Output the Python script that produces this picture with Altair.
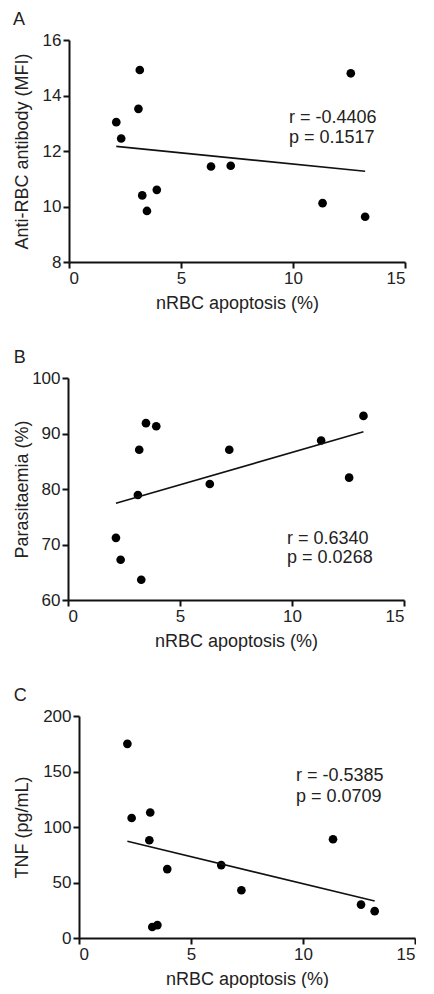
import altair as alt
import pandas as pd

# Panel A
apoptosis_a = [2.11, 2.33, 3.16, 3.10, 3.27, 3.48, 3.92, 6.34, 7.22, 11.32, 12.58, 13.22]
antibody = [13.04, 12.45, 14.92, 13.52, 10.40, 9.84, 10.60, 11.44, 11.47, 10.12, 14.80, 9.63]
stats_a = ["r = -0.4406", "p = 0.1517"]

# Panel B
apoptosis_b = [2.14, 2.35, 3.18, 3.12, 3.27, 3.48, 3.94, 6.33, 7.20, 11.30, 12.55, 13.19]
parasitaemia = [71.2, 67.25, 87.07, 78.92, 63.65, 91.86, 91.3, 80.9, 87.07, 88.74, 82.04, 93.17]
stats_b = ["r = 0.6340", "p = 0.0268"]

# Panel C
apoptosis_c = [2.16, 2.35, 3.18, 3.14, 3.27, 3.50, 3.94, 6.35, 7.25, 11.34, 12.59, 13.20]
tnf = [174.9, 108.1, 113.1, 88.1, 9.9, 11.6, 62.1, 65.7, 43.0, 89.0, 30.1, 24.2]
stats_c = ["r = -0.5385", "p = 0.0709"]

x_ticks = [0, 5, 10, 15]
FONT = "Liberation Sans"
INK = "#222222"


def panel(letter, xs, ys, ytitle, ydomain, yticks, stats, ann_x, ann_y, ytitle_pad):
    df = pd.DataFrame({"x": xs, "y": ys})
    xenc = alt.X("x:Q", scale=alt.Scale(domain=[0, 15], nice=False, zero=False),
                 axis=alt.Axis(values=x_ticks, title="nRBC apoptosis (%)", titlePadding=8))
    yenc = alt.Y("y:Q", scale=alt.Scale(domain=ydomain, nice=False, zero=False),
                 axis=alt.Axis(values=yticks, title=ytitle, titlePadding=ytitle_pad))
    base = alt.Chart(df)
    pts = base.mark_circle(size=75, color="#000000", opacity=1).encode(x=xenc, y=yenc)
    line = base.transform_regression("x", "y").mark_line(
        color="#111111", strokeWidth=1.6).encode(x="x:Q", y="y:Q")
    ann_df = pd.DataFrame({"x": [ann_x, ann_x], "y": ann_y, "t": stats})
    ann = alt.Chart(ann_df).mark_text(
        align="left", baseline="alphabetic", fontSize=18, font=FONT, color=INK
    ).encode(x="x:Q", y="y:Q", text="t:N")
    return alt.layer(pts, line, ann).properties(
        width=336, height=222,
        title=alt.TitleParams(letter, anchor="start", frame="bounds", fontSize=18,
                              fontWeight="normal", font=FONT, color=INK, offset=2),
    )


def spacer():
    return alt.Chart(pd.DataFrame({"s": [0]})).mark_point(opacity=0).encode(
        x=alt.X("s:Q", axis=None), y=alt.Y("s:Q", axis=None)
    ).properties(width=1, height=222)


pa = panel("A", apoptosis_a, antibody, "Anti-RBC antibody (MFI)", [8, 16], [8, 10, 12, 14, 16],
           stats_a, 9.82, [13.0, 12.29], 11)
pb = panel("B", apoptosis_b, parasitaemia, "Parasitaemia (%)", [60, 100], [60, 70, 80, 90, 100],
           stats_b, 9.78, [70.1, 66.6], 0)
pc = panel("C", apoptosis_c, tnf, "TNF (pg/mL)", [0, 200], [0, 50, 100, 150, 200],
           stats_c, 9.69, [141.4, 122.6], 11)

rows = [alt.hconcat(spacer(), p, spacing=0) for p in (pa, pb, pc)]

chart = alt.vconcat(*rows, spacing=37).properties(
    padding={"left": -2, "top": 3, "right": 0, "bottom": 0}
).configure_axis(
    labelFont=FONT, titleFont=FONT, labelFontSize=17, titleFontSize=18,
    titleFontWeight="normal", labelColor=INK, titleColor=INK,
    domainColor="#111111", tickColor="#111111", domainWidth=2, tickWidth=2,
    tickSize=6, labelPadding=2, grid=False
).configure_view(stroke=None)

chart.save("out.html", embed_options={"renderer": "svg", "actions": False})
